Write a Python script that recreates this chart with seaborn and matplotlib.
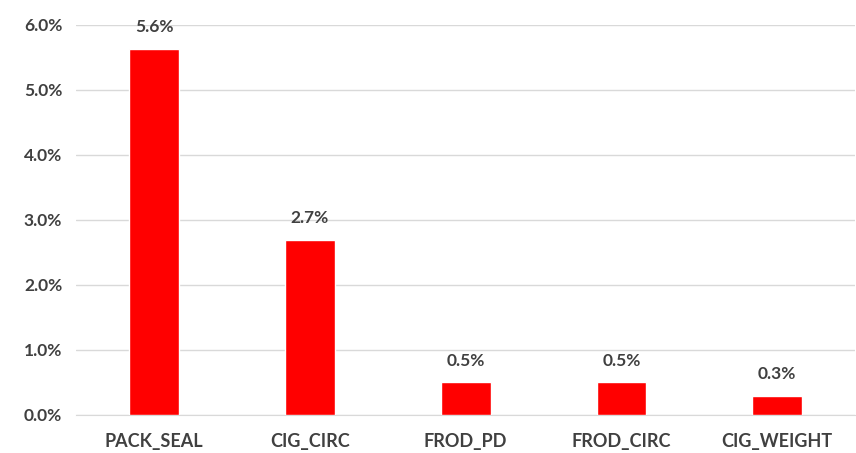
import matplotlib.pyplot as plt
import pandas as pd
import seaborn as sns
from matplotlib.ticker import FuncFormatter

categories = ['PACK_SEAL', 'CIG_CIRC', 'FROD_PD', 'FROD_CIRC', 'CIG_WEIGHT']
rates = [5.63, 2.69, 0.50, 0.50, 0.29]
labels = ['5.6%', '2.7%', '0.5%', '0.5%', '0.3%']

df = pd.DataFrame({'defect': categories, 'rate': rates})

sns.set_style('white')
plt.rcParams['font.family'] = ['Lato', 'DejaVu Sans']

fig = plt.figure(figsize=(8.56, 4.53), dpi=100)
ax = fig.add_axes([0.089, 0.084, 0.91, 0.861])
sns.barplot(data=df, x='defect', y='rate', color='#ff0000', width=0.32,
            saturation=1, ax=ax, zorder=3)

ax.set_ylim(0, 6)
ax.set_yticks(range(0, 7))
ax.yaxis.set_major_formatter(FuncFormatter(lambda v, p: f'{v:.1f}%'))
ax.grid(axis='y', color='#d9d9d9', linewidth=1, zorder=0)
ax.set_axisbelow(True)
for s in ['top', 'right', 'left']:
    ax.spines[s].set_visible(False)
ax.spines['bottom'].set_color('#d9d9d9')
ax.tick_params(axis='y', length=0, labelsize=12.5, labelcolor='#404040', pad=10)
ax.tick_params(axis='x', length=0, labelsize=13, labelcolor='#404040', pad=13)
for t in ax.get_xticklabels() + ax.get_yticklabels():
    t.set_fontweight('bold')
ax.set_xlabel('')
ax.set_ylabel('')

for i, (v, lab) in enumerate(zip(rates, labels)):
    ax.annotate(lab, (i, v), xytext=(0, 10), textcoords='offset points',
                ha='center', va='bottom', fontsize=12.5, fontweight='bold',
                color='#404040')

plt.savefig('out.png', dpi=100)
